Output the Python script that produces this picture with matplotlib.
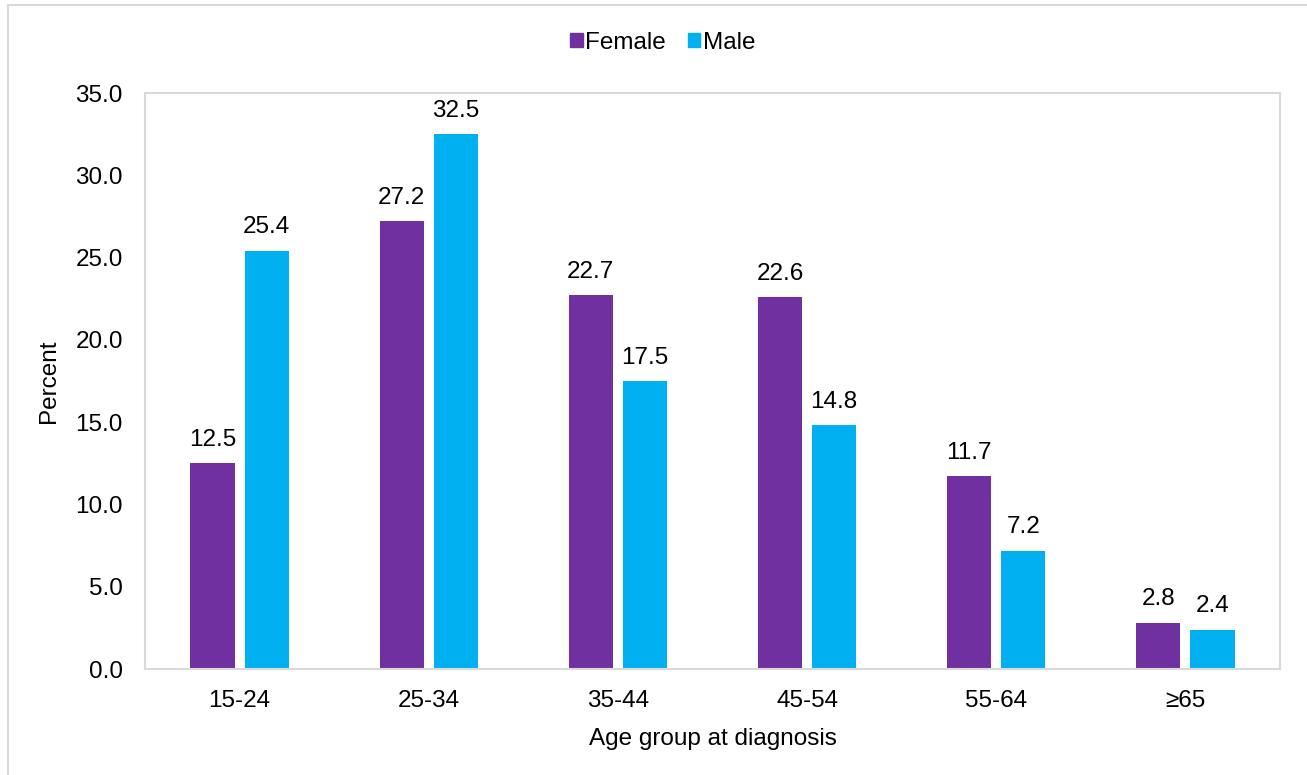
import matplotlib
matplotlib.use("Agg")
import matplotlib.pyplot as plt
import numpy as np
from matplotlib.patches import Rectangle, Patch

plt.rcParams['font.family'] = ['Liberation Sans', 'DejaVu Sans']

age_groups = ["15-24", "25-34", "35-44", "45-54", "55-64", "\u226565"]
female = [12.5, 27.2, 22.7, 22.6, 11.7, 2.8]
male = [25.4, 32.5, 17.5, 14.8, 7.2, 2.4]
y_ticks = [0, 5, 10, 15, 20, 25, 30, 35]

female_color = "#7030A0"
male_color = "#00B0F0"
frame_color = "#D9D9D9"
FS = 17.5

W, H = 1307, 775
fig = plt.figure(figsize=(W / 100, H / 100), dpi=100)
ax = fig.add_axes([145 / W, 1 - 669 / H, (1280 - 145) / W, (669 - 93) / H])

x = np.arange(len(age_groups))
bw = 0.233
off = 0.143
b1 = ax.bar(x - off, female, bw, color=female_color, label="Female")
b2 = ax.bar(x + off, male, bw, color=male_color, label="Male")

for bars, vals in ((b1, female), (b2, male)):
    for b, v in zip(bars, vals):
        ax.annotate(f"{v:.1f}", (b.get_x() + b.get_width() / 2, v),
                    xytext=(0, 9), textcoords="offset points",
                    ha="center", va="bottom", fontsize=FS)

ax.set_xlim(-0.5, len(age_groups) - 0.5)
ax.set_ylim(0, 35)
ax.set_yticks(y_ticks)
ax.set_yticklabels([f"{t:.1f}" for t in y_ticks])
ax.set_xticks(x)
ax.set_xticklabels(age_groups)
ax.tick_params(axis="both", length=0, labelsize=FS)
ax.tick_params(axis="y", pad=16)
ax.tick_params(axis="x", pad=15)
for s in ax.spines.values():
    s.set_color(frame_color)
    s.set_linewidth(1.5)

ax.set_xlabel("Age group at diagnosis", fontsize=FS, labelpad=12)
ax.set_ylabel("Percent", fontsize=FS, labelpad=11)

handles = [Patch(color=female_color, label="Female"), Patch(color=male_color, label="Male")]
fig.legend(handles=handles, loc="center", bbox_to_anchor=(663 / W, 1 - 43 / H),
           ncol=2, frameon=False, fontsize=FS, handlelength=0.5, handleheight=0.5,
           handletextpad=0.12, columnspacing=0.9)

fig.patches.append(Rectangle((8 / W, -0.1), 2, 1.1 - 5 / H, transform=fig.transFigure,
                             fill=False, edgecolor=frame_color, linewidth=1.5))

fig.savefig("out.png", dpi=100)
